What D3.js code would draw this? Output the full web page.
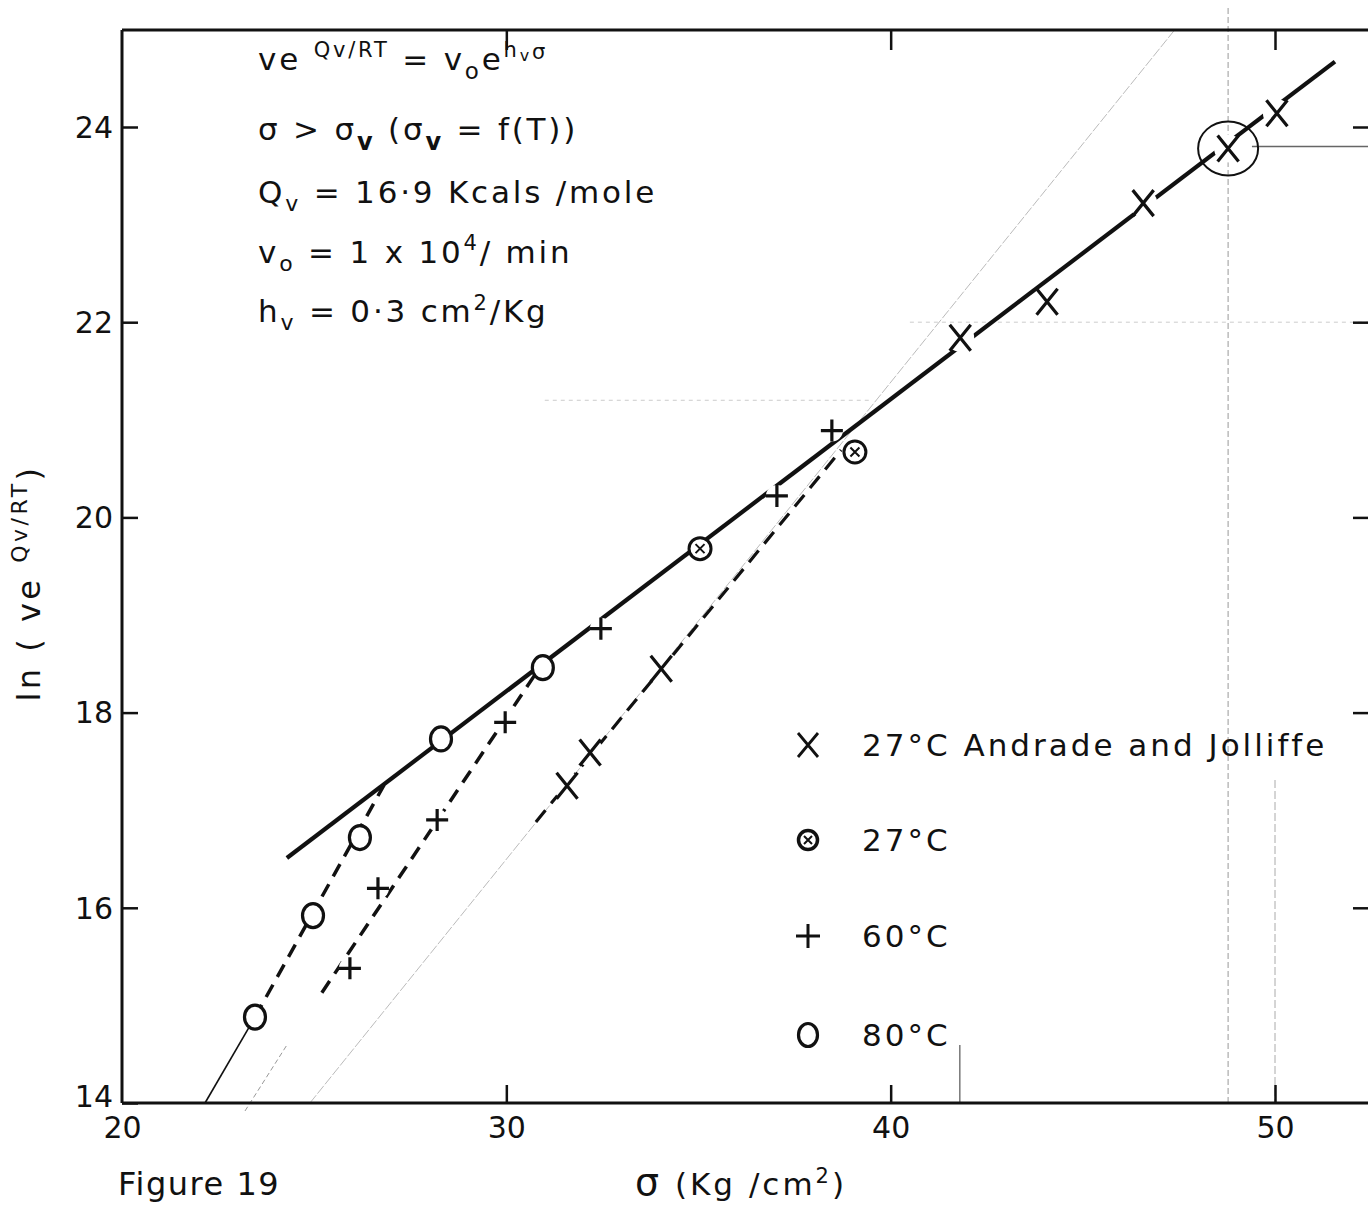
<!DOCTYPE html>
<html>
<head>
<meta charset="utf-8">
<script src="https://cdn.jsdelivr.net/npm/d3@7"></script>
<style>
  body { margin: 0; background: #fff; }
  svg text { font-family: "DejaVu Sans", "Noto Sans", sans-serif; fill: #111; }
</style>
</head>
<body>
<div id="chart"></div>
<script>
// Figure 19: ln(v e^(Qv/RT)) against stress sigma

// data
var sig27AJ = [31.58, 32.18, 34.03, 41.81, 44.07, 46.57, 48.78, 50.05];
var ln27AJ  = [17.25, 17.59, 18.45, 21.84, 22.21, 23.22, 23.78, 24.14];

var sig27 = [35.04, 39.07];
var ln27  = [19.68, 20.67];

var sig60 = [25.93, 26.66, 28.2, 29.97, 32.46, 37.04, 38.47];
var ln60  = [15.38, 16.20, 16.90, 17.90, 18.86, 20.22, 20.89];

var sig80 = [23.46, 24.97, 26.19, 28.30, 30.95];
var ln80  = [14.88, 15.92, 16.72, 17.73, 18.46];

// fitted lines (end points)
var mainSig = [24.29, 51.56], mainLn = [16.51, 24.67];
var fit80Sig = [23.46, 26.82], fit80Ln = [14.88, 17.26];
var tail80Sig = [22.16, 23.46], tail80Ln = [14.0, 14.88];
var fit60Sig = [25.2, 30.8], fit60Ln = [15.13, 18.42];
var fit27Sig = [30.77, 38.71], fit27Ln = [16.88, 20.69];
// faint pencil construction line
var pencilSig = [24.89, 47.4], pencilLn = [14.0, 25.0];

var xTicks = [20, 30, 40, 50];
var yTicks = [14, 16, 18, 20, 22, 24];

var svgWidth = 1368, svgHeight = 1210;
var mLeft = 122, mRight = 1368, mTop = 30, mBottom = 1103;

var svg = d3.select("#chart").append("svg")
  .attr("width", svgWidth)
  .attr("height", svgHeight);

var x = d3.scaleLinear().domain([20, 50]).range([mLeft, 1275]);
var y = d3.scaleLinear().domain([14, 24]).range([mBottom, 127]);

var ink = "#111";

// faint pencil marks
var faint = svg.append("g").attr("fill", "none");
faint.append("line")
  .attr("x1", x(pencilSig[0])).attr("y1", y(pencilLn[0]))
  .attr("x2", x(pencilSig[1])).attr("y2", y(pencilLn[1]))
  .attr("stroke", "#bbb").attr("stroke-width", 1).attr("stroke-dasharray", "10,2");
faint.append("line")
  .attr("x1", x(48.78)).attr("y1", 8).attr("x2", x(48.78)).attr("y2", mBottom)
  .attr("stroke", "#aaa").attr("stroke-width", 1.2).attr("stroke-dasharray", "6,3");
faint.append("line")
  .attr("x1", x(49.4)).attr("y1", y(23.8)).attr("x2", mRight).attr("y2", y(23.8))
  .attr("stroke", "#666").attr("stroke-width", 1.3);
faint.append("line")
  .attr("x1", x(40.5)).attr("y1", y(22.0)).attr("x2", mRight).attr("y2", y(22.0))
  .attr("stroke", "#ccc").attr("stroke-width", 1).attr("stroke-dasharray", "4,4");
faint.append("line")
  .attr("x1", x(31)).attr("y1", y(21.2)).attr("x2", x(39.5)).attr("y2", y(21.2))
  .attr("stroke", "#ccc").attr("stroke-width", 1).attr("stroke-dasharray", "4,4");
faint.append("line")
  .attr("x1", x(41.8)).attr("y1", 1045).attr("x2", x(41.8)).attr("y2", mBottom)
  .attr("stroke", "#555").attr("stroke-width", 1.2);
faint.append("line")
  .attr("x1", x(50)).attr("y1", 780).attr("x2", x(50)).attr("y2", mBottom)
  .attr("stroke", "#aaa").attr("stroke-width", 1).attr("stroke-dasharray", "8,3");
faint.append("line")
  .attr("x1", x(23.2)).attr("y1", mBottom + 8).attr("x2", x(24.3)).attr("y2", y(14.6))
  .attr("stroke", "#999").attr("stroke-width", 1).attr("stroke-dasharray", "5,3");

// frame
var frame = svg.append("g").attr("stroke", ink).attr("stroke-width", 3).attr("fill", "none");
frame.append("line").attr("x1", mLeft).attr("y1", mTop).attr("x2", mRight).attr("y2", mTop);
frame.append("line").attr("x1", mLeft).attr("y1", mTop).attr("x2", mLeft).attr("y2", mBottom);
frame.append("line").attr("x1", mLeft).attr("y1", mBottom).attr("x2", mRight).attr("y2", mBottom);

// axes
function styleAxis(g) {
  g.select(".domain").remove();
  g.selectAll(".tick line").attr("stroke", ink).attr("stroke-width", 2.5);
  g.selectAll(".tick text").attr("font-size", 30).attr("fill", ink)
    .style("font-family", "'DejaVu Sans', sans-serif");
}

svg.append("g")
  .attr("transform", "translate(" + mLeft + ",0)")
  .call(d3.axisLeft(y).tickValues(yTicks).tickSizeInner(-16).tickSizeOuter(0).tickPadding(9))
  .call(styleAxis)
  .selectAll(".tick text")
  .attr("dy", function(d) { return d === 14 ? "0.1em" : "0.34em"; });

svg.append("g")
  .attr("transform", "translate(0," + mBottom + ")")
  .call(d3.axisBottom(x).tickValues(xTicks).tickSizeInner(-18).tickSizeOuter(0).tickPadding(14))
  .call(styleAxis)
  .selectAll(".tick")
  .filter(function(d) { return d === 20; })
  .select("line").remove();

svg.append("g")
  .attr("transform", "translate(0," + mTop + ")")
  .call(d3.axisTop(x).tickValues([30, 40, 50]).tickSizeInner(-20).tickSizeOuter(0).tickFormat(""))
  .call(styleAxis);

svg.append("g")
  .attr("transform", "translate(" + mRight + ",0)")
  .call(d3.axisRight(y).tickValues([16, 18, 20, 22, 24]).tickSizeInner(-15).tickSizeOuter(0).tickFormat(""))
  .call(styleAxis);

// lines
var lines = svg.append("g").attr("fill", "none").attr("stroke", ink).attr("stroke-linecap", "butt");
function seg(sx, sy) {
  return d3.line()(sx.map(function(s, i) { return [x(s), y(sy[i])]; }));
}
lines.append("path").attr("d", seg(mainSig, mainLn)).attr("stroke-width", 4.2);
lines.append("path").attr("d", seg(tail80Sig, tail80Ln)).attr("stroke-width", 1.6);
lines.append("path").attr("d", seg(fit80Sig, fit80Ln)).attr("stroke-width", 3.5).attr("stroke-dasharray", "14,9");
lines.append("path").attr("d", seg(fit60Sig, fit60Ln)).attr("stroke-width", 3.5).attr("stroke-dasharray", "14,9");
lines.append("path").attr("d", seg(fit27Sig, fit27Ln)).attr("stroke-width", 3.2).attr("stroke-dasharray", "15,9");

// markers
var xMark = function(hw, hh) {
  return "M" + (-hw) + "," + (-hh) + "L" + hw + "," + hh + "M" + (-hw) + "," + hh + "L" + hw + "," + (-hh);
};
var plusMark = function(h) {
  return "M" + (-h) + ",0L" + h + ",0M0," + (-h) + "L0," + h;
};

var marks = svg.append("g");

function halo(sx, sy, r) {
  marks.selectAll(null)
    .data(sx.map(function(s, i) { return [s, sy[i]]; }))
    .enter().append("circle")
    .attr("cx", function(d) { return x(d[0]); })
    .attr("cy", function(d) { return y(d[1]); })
    .attr("r", r)
    .attr("fill", "#fff");
}

halo(sig27AJ, ln27AJ, 14);
halo(sig60, ln60, 11);

marks.selectAll(null)
  .data(sig27AJ.map(function(s, i) { return [s, ln27AJ[i]]; }))
  .enter().append("path")
  .attr("transform", function(d) { return "translate(" + x(d[0]) + "," + y(d[1]) + ")"; })
  .attr("d", xMark(10.5, 13))
  .attr("stroke", ink).attr("stroke-width", 3.2).attr("fill", "none");

marks.selectAll(null)
  .data(sig60.map(function(s, i) { return [s, ln60[i]]; }))
  .enter().append("path")
  .attr("transform", function(d) { return "translate(" + x(d[0]) + "," + y(d[1]) + ")"; })
  .attr("d", plusMark(11))
  .attr("stroke", ink).attr("stroke-width", 3.2).attr("fill", "none");

marks.selectAll(null)
  .data(sig80.map(function(s, i) { return [s, ln80[i]]; }))
  .enter().append("ellipse")
  .attr("cx", function(d) { return x(d[0]); })
  .attr("cy", function(d) { return y(d[1]); })
  .attr("rx", 10.5).attr("ry", 12)
  .attr("fill", "#fff").attr("stroke", ink).attr("stroke-width", 3.2);

var g27 = marks.selectAll(null)
  .data(sig27.map(function(s, i) { return [s, ln27[i]]; }))
  .enter().append("g")
  .attr("transform", function(d) { return "translate(" + x(d[0]) + "," + y(d[1]) + ")"; });
g27.append("circle").attr("r", 11).attr("fill", "#fff").attr("stroke", ink).attr("stroke-width", 3);
g27.append("path").attr("d", xMark(4.5, 4.5)).attr("stroke", ink).attr("stroke-width", 2).attr("fill", "none");

// ringed point at the top
marks.append("ellipse")
  .attr("cx", x(48.78)).attr("cy", y(23.78)).attr("rx", 30).attr("ry", 27)
  .attr("fill", "none").attr("stroke", ink).attr("stroke-width", 2);

// annotation block
var note = svg.append("g").attr("font-size", 31).attr("letter-spacing", 2.8);

var t1 = note.append("text").attr("x", 258).attr("y", 70);
t1.append("tspan").text("ve ");
t1.append("tspan").attr("dy", -13).attr("font-size", 21).text("Qv/RT");
t1.append("tspan").attr("dy", 13).text("   = v");
t1.append("tspan").attr("dy", 9).attr("font-size", 23).text("o");
t1.append("tspan").attr("dy", -9).text("e");
t1.append("tspan").attr("dy", -13).attr("font-size", 21).text("h");
t1.append("tspan").attr("dy", 4).attr("font-size", 16).text("v");
t1.append("tspan").attr("dy", -2).attr("font-size", 21).text("σ");

var t2 = note.append("text").attr("x", 258).attr("y", 140);
t2.append("tspan").text("σ > σ");
t2.append("tspan").attr("dy", 10).attr("font-size", 24).attr("font-weight", "bold").text("v");
t2.append("tspan").attr("dy", -10).text(" (σ");
t2.append("tspan").attr("dy", 10).attr("font-size", 24).attr("font-weight", "bold").text("v");
t2.append("tspan").attr("dy", -10).text(" = f(T))");

var t3 = note.append("text").attr("x", 258).attr("y", 203);
t3.append("tspan").text("Q");
t3.append("tspan").attr("dy", 8).attr("font-size", 22).text("v");
t3.append("tspan").attr("dy", -8).text(" =  16·9 Kcals /mole");

var t4 = note.append("text").attr("x", 258).attr("y", 263);
t4.append("tspan").text("v");
t4.append("tspan").attr("dy", 8).attr("font-size", 22).text("o");
t4.append("tspan").attr("dy", -8).text(" =  1 x 10");
t4.append("tspan").attr("dy", -13).attr("font-size", 21).text("4");
t4.append("tspan").attr("dy", 13).text("/ min");

var t5 = note.append("text").attr("x", 258).attr("y", 322);
t5.append("tspan").text("h");
t5.append("tspan").attr("dy", 8).attr("font-size", 22).text("v");
t5.append("tspan").attr("dy", -8).text(" =  0·3  cm");
t5.append("tspan").attr("dy", -12).attr("font-size", 21).text("2");
t5.append("tspan").attr("dy", 12).text("/Kg");

// legend
var legendNames = ["27°C  Andrade and Jolliffe", "27°C", "60°C", "80°C"];
var legendY = [745, 840, 936, 1035];
var leg = svg.append("g");
legendY.forEach(function(ly, i) {
  var g = leg.append("g").attr("transform", "translate(808," + ly + ")");
  if (i === 0) g.append("path").attr("d", xMark(10, 12)).attr("stroke", ink).attr("stroke-width", 2.8).attr("fill", "none");
  if (i === 1) {
    g.append("circle").attr("r", 9.5).attr("fill", "none").attr("stroke", ink).attr("stroke-width", 3.5);
    g.append("path").attr("d", xMark(4, 4)).attr("stroke", ink).attr("stroke-width", 2);
  }
  if (i === 2) g.append("path").attr("d", plusMark(12)).attr("stroke", ink).attr("stroke-width", 3);
  if (i === 3) g.append("ellipse").attr("rx", 9.5).attr("ry", 11.5).attr("fill", "none").attr("stroke", ink).attr("stroke-width", 3.2);
  g.append("text").attr("x", 54).attr("dy", "0.36em")
    .attr("font-size", 31).attr("letter-spacing", 3).text(legendNames[i]);
});

// axis titles
svg.append("text")
  .attr("transform", "translate(40,583) rotate(-90)")
  .attr("text-anchor", "middle")
  .attr("font-size", 32)
  .attr("letter-spacing", 3.5)
  .call(function(t) {
    t.append("tspan").text("ln ( ve ");
    t.append("tspan").attr("dy", -13).attr("font-size", 22).text("Qv/RT");
    t.append("tspan").attr("dy", 13).text(")");
  });

svg.append("text")
  .attr("x", 635).attr("y", 1195)
  .attr("font-size", 31)
  .attr("letter-spacing", 3)
  .call(function(t) {
    t.append("tspan").attr("font-size", 38).text("σ");
    t.append("tspan").text("  (Kg /cm");
    t.append("tspan").attr("dy", -12).attr("font-size", 21).text("2");
    t.append("tspan").attr("dy", 12).text(")");
  });

svg.append("text")
  .attr("x", 118).attr("y", 1195)
  .attr("font-size", 32)
  .attr("letter-spacing", 1.5)
  .text("Figure 19");
</script>
</body>
</html>
